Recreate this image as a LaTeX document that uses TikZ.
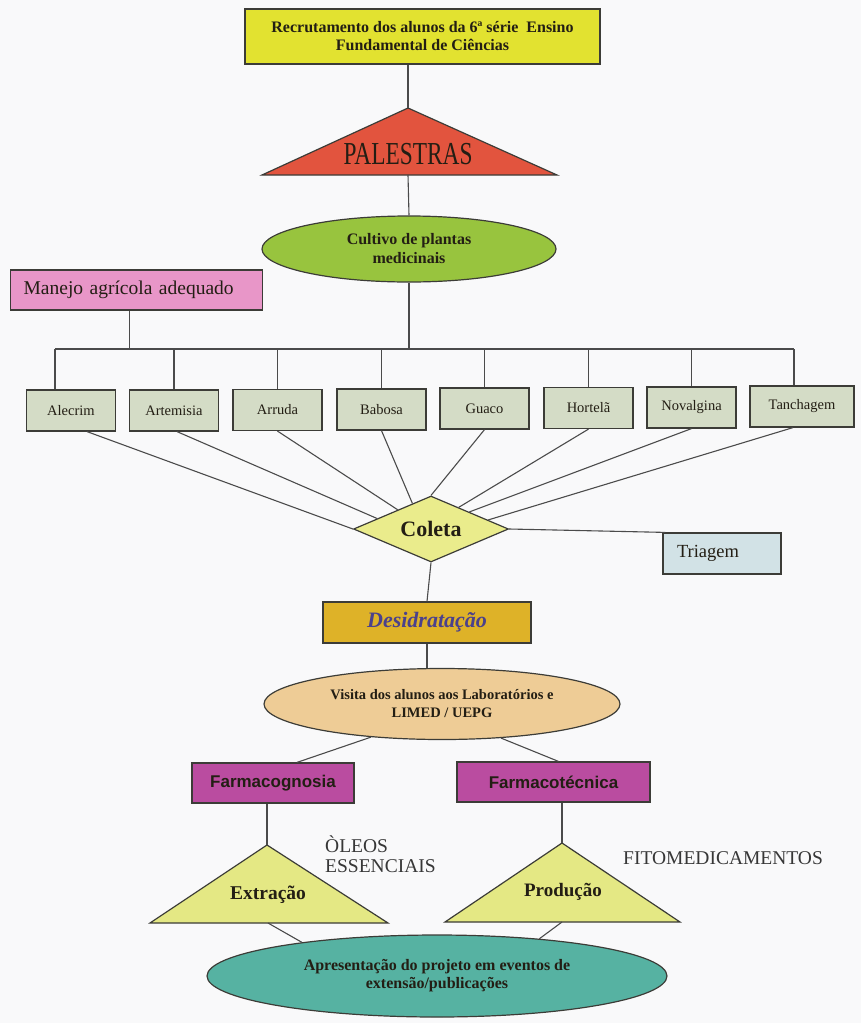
\documentclass[tikz,border=0pt]{standalone}
\usepackage{fontspec}
\setmainfont{Liberation Serif}
\newfontfamily\arialfont{Liberation Sans}
\usepackage{graphicx}
\usetikzlibrary{shapes.geometric}
\definecolor{bgc}{RGB}{249,249,250}
\definecolor{txt}{RGB}{35,30,20}
\definecolor{txttwo}{RGB}{55,55,55}
\definecolor{lgray}{RGB}{75,75,75}
\definecolor{bgray}{RGB}{60,60,55}
\definecolor{topc}{RGB}{226,226,48}
\definecolor{redc}{RGB}{226,84,62}
\definecolor{greenc}{RGB}{152,196,62}
\definecolor{pinkc}{RGB}{232,150,200}
\definecolor{plantc}{RGB}{212,220,198}
\definecolor{coletac}{RGB}{234,236,140}
\definecolor{triac}{RGB}{210,226,230}
\definecolor{desc}{RGB}{222,178,40}
\definecolor{desidtxt}{RGB}{75,65,140}
\definecolor{visc}{RGB}{238,204,150}
\definecolor{magc}{RGB}{186,76,160}
\definecolor{tric}{RGB}{228,232,132}
\definecolor{tealc}{RGB}{86,178,162}
\begin{document}
\begin{tikzpicture}[x=1pt,y=-1pt,
  every node/.style={text=txt},
  conn/.style={draw=lgray,line width=1.1pt},
  shp/.style={draw=bgray,line width=1.2pt},
  plant/.style={shp,rectangle,fill=plantc,minimum width=89pt,minimum height=41pt,inner sep=0pt,font=\fontsize{14.5}{17}\selectfont},
  magbox/.style={shp,rectangle,fill=magc,minimum height=40pt,inner sep=0pt,font=\arialfont\bfseries\fontsize{17}{20}\selectfont},
  tri/.style={shp,fill=tric},
  ]
\fill[bgc] (0,0) rectangle (861,1023);
\useasboundingbox (0,0) rectangle (861,1023);

% top box
\node[shp,rectangle,fill=topc,minimum width=355pt,minimum height=55pt,inner sep=0pt,align=center,font=\bfseries\fontsize{16}{18}\selectfont] (top) at (422.5,36.5) {Recrutamento dos alunos da 6ª série\ \ Ensino\\Fundamental de Ciências};

% PALESTRAS
\coordinate (palA) at (408,108);
\coordinate (palL) at (262,175);
\coordinate (palR) at (557,175);
\coordinate (palB) at (408,175);
\draw[shp,fill=redc] (palA) -- (palR) -- (palL) -- cycle;
\node (paltext) at (408,154) {\scalebox{0.73}[1]{\fontsize{32}{36}\selectfont PALESTRAS}};
\draw[conn] (top.south -| palA) -- (palA);

% Cultivo
\node[shp,ellipse,fill=greenc,minimum width=294pt,minimum height=66pt,inner sep=0pt,align=center,font=\bfseries\fontsize{16}{19}\selectfont] (cult) at (409,249) {Cultivo de plantas\\medicinais};
\draw[conn] (palB) -- (cult.north);

% Manejo
\node[shp,rectangle,fill=pinkc,anchor=west,text width=226pt,inner xsep=13pt,minimum height=40pt,align=left,font=\fontsize{19.5}{22}\selectfont] (manejo) at (10,290) {Manejo agrícola adequado};

% bus
\coordinate (busL) at (55,349);
\coordinate (busR) at (794,349);
\draw[conn] (busL) -- (busR);
\draw[conn] ([xshift=-7pt]manejo.south) -- ([xshift=-7pt]manejo.south |- busL);
\draw[conn] (cult.south) -- (cult.south |- busL);

% plants
\node[plant] (alecrim) at (71,410.5) {Alecrim};
\node[plant] (artem) at (174,410.5) {Artemisia};
\node[plant] (arruda) at (277.5,410) {Arruda};
\node[plant] (babosa) at (381.5,409.5) {Babosa};
\node[plant] (guaco) at (484.5,408.5) {Guaco};
\node[plant] (hortela) at (588.5,408) {Hortelã};
\node[plant] (noval) at (691.5,407.5) {Novalgina};
\node[plant,minimum width=104pt] (tanch) at (802,406.5) {Tanchagem};

\draw[conn] (busL) -- (busL |- alecrim.north);
\draw[conn] (artem.north) -- (artem.north |- busL);
\draw[conn] (arruda.north) -- (arruda.north |- busL);
\draw[conn] (babosa.north) -- (babosa.north |- busL);
\draw[conn] (guaco.north) -- (guaco.north |- busL);
\draw[conn] (hortela.north) -- (hortela.north |- busL);
\draw[conn] (noval.north) -- (noval.north |- busL);
\draw[conn] (busR) -- (busR |- tanch.north);

% Coleta
\node[shp,diamond,fill=coletac,minimum width=155pt,minimum height=66pt,aspect=2.35,inner sep=0pt,font=\bfseries\fontsize{22}{24}\selectfont] (coleta) at (431,529) {Coleta};

\draw[conn] ([xshift=16pt]alecrim.south) -- (coleta.west);
\draw[conn] ([xshift=3pt]artem.south) -- (coleta.169);
\draw[conn] (arruda.south) -- (coleta.150);
\draw[conn] (babosa.south) -- (coleta.126);
\draw[conn] (guaco.south) -- (coleta.north);
\draw[conn] (hortela.south) -- (coleta.38);
\draw[conn] (noval.south) -- (coleta.24);
\draw[conn] ([xshift=-9pt]tanch.south) -- (coleta.9);

% Triagem
\node[shp,rectangle,fill=triac,text width=90pt,inner xsep=14pt,minimum height=41pt,align=left,font=\fontsize{18.5}{21}\selectfont] (triagem) at (722,553.5) {Triagem};
\draw[conn] (coleta.east) -- ([xshift=3pt]triagem.north west);

% Desidratacao
\node[shp,rectangle,fill=desc,minimum width=208pt,minimum height=41pt,inner sep=0pt,text=desidtxt,font=\bfseries\itshape\fontsize{22}{24}\selectfont] (desid) at (427,622.5) {Desidratação};
\draw[conn] (coleta.south) -- (desid.north);

% Visita
\node[shp,ellipse,fill=visc,minimum width=356pt,minimum height=71pt,inner sep=0pt,align=center,font=\bfseries\fontsize{14.5}{18}\selectfont] (visita) at (442,704) {Visita dos alunos aos Laboratórios e\\LIMED / UEPG};
\draw[conn] (desid.south) -- (desid.south |- visita.north);

% Farmaco boxes
\node[magbox,minimum width=162pt] (fcog) at (273,783) {Farmacognosia};
\node[magbox,minimum width=193pt] (ftec) at (553.5,782) {Farmacotécnica};
\draw[conn] (visita.205) -- ([xshift=24pt]fcog.north);
\draw[conn] (visita.330) -- ([xshift=5pt]ftec.north);

% Extracao
\coordinate (extA) at (267,845);
\coordinate (extL) at (150,923);
\coordinate (extR) at (388,923);
\coordinate (extB) at (268,923);
\draw[tri] (extA) -- (extR) -- (extL) -- cycle;
\node[font=\bfseries\fontsize{19.5}{22}\selectfont] (exttext) at (268,895) {Extração};
\draw[conn] ([xshift=-6pt]fcog.south) -- (extA);

% Producao
\coordinate (prodA) at (562,843);
\coordinate (prodL) at (445,922);
\coordinate (prodR) at (680,922);
\coordinate (prodB) at (562,922);
\draw[tri] (prodA) -- (prodR) -- (prodL) -- cycle;
\node[font=\bfseries\fontsize{19}{22}\selectfont] (prodtext) at (563,892) {Produção};
\draw[conn] ([xshift=8.5pt]ftec.south) -- (prodA);

% labels
\node[anchor=base west,align=left,inner sep=0pt,text=txttwo,font=\fontsize{19.5}{20}\selectfont] (oleos) at (325,872) {ÒLEOS\\ESSENCIAIS};
\node[anchor=base west,inner sep=0pt,text=txttwo,font=\fontsize{19.5}{22}\selectfont] (fito) at (623,864) {FITOMEDICAMENTOS};

% Apresentacao
\node[shp,ellipse,fill=tealc,minimum width=460pt,minimum height=82pt,inner sep=0pt,align=center,font=\bfseries\fontsize{16}{18}\selectfont] (apres) at (437,976) {Apresentação do projeto em eventos de\\extensão/publicações};
\draw[conn] (extB) -- (apres.166);
\draw[conn] (prodB) -- (apres.20);
\end{tikzpicture}
\end{document}
